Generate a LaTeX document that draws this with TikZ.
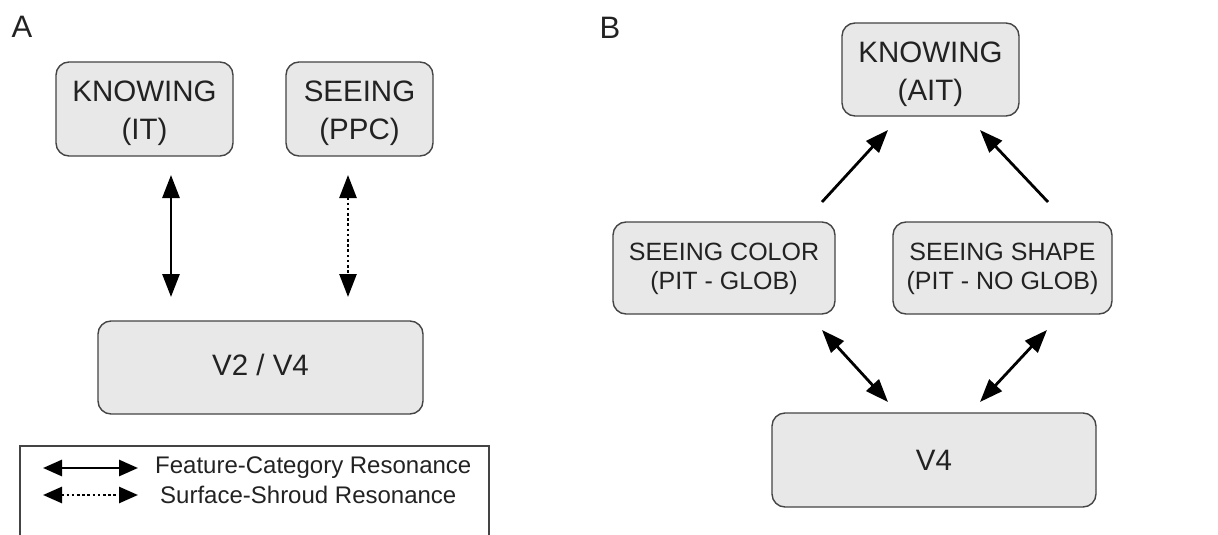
\documentclass[tikz,border=0pt]{standalone}
\usepackage{fontspec}
\setmainfont{Liberation Sans}
\usetikzlibrary{arrows.meta}
\definecolor{boxfill}{HTML}{E8E8E8}
\definecolor{boxline}{HTML}{444444}
\definecolor{txt}{HTML}{222222}
\tikzset{
  areabox/.style={draw=boxline, fill=boxfill, line width=1.4pt, rounded corners=13pt, inner sep=0pt},
  bigtext/.style={align=center, text=txt, inner sep=0pt, font=\fontsize{29.5}{38}\selectfont},
  smalltext/.style={bigtext, font=\fontsize{25}{29}\selectfont},
  bigtip/.style={-{Triangle[width=17pt,length=23pt]}},
  bothtip/.style={{Triangle[width=17pt,length=23pt]}-{Triangle[width=17pt,length=23pt]}},
  legtip/.style={{Triangle[width=16pt,length=19pt]}-{Triangle[width=16pt,length=19pt]}},
  conn/.style={line width=2.8pt, black},
  dotconn/.style={conn, line width=2.6pt, dash pattern=on 2.6pt off 2.6pt},
  paneltag/.style={text=txt, font=\fontsize{31}{31}\selectfont, inner sep=0pt},
  legendtext/.style={text=txt, font=\fontsize{24}{24}\selectfont, anchor=west, inner sep=0pt},
}
\begin{document}
\begin{tikzpicture}[x=1pt, y=-1pt]
\useasboundingbox (0,0) rectangle (1218,535);
% panel labels
\node[paneltag] (tagA) at (22,27) {A};
\node[paneltag] (tagB) at (610,28) {B};
% panel A
\node[areabox, minimum width=177pt, minimum height=94pt,
  label={[bigtext, yshift=-4pt]center:{KNOWING\\(IT)}}] (knowA) at (144.5,109) {};
\node[areabox, minimum width=147pt, minimum height=94pt,
  label={[bigtext, yshift=-4pt]center:{SEEING\\(PPC)}}] (seeA) at (359.5,109) {};
\node[areabox, minimum width=325pt, minimum height=93pt,
  label={[bigtext, yshift=3pt]center:{V2 / V4}}] (v2v4) at (260.5,367.5) {};
\coordinate (a1t) at (171,175); \coordinate (a1b) at (171,297);
\coordinate (a2t) at (348,175); \coordinate (a2b) at (348,297);
\draw[conn, bothtip] (a1t) -- (a1b);
\draw[dotconn, bothtip] (a2t) -- (a2b);
% legend
\coordinate (lg1) at (20,540); \coordinate (lg2) at (20,446);
\coordinate (lg3) at (489,446); \coordinate (lg4) at (489,540);
\draw[boxline, line width=1.2pt] (lg1) -- (lg2) -- (lg3) -- (lg4);
\coordinate (l1a) at (43,468); \coordinate (l1b) at (138,468);
\coordinate (l2a) at (43,495); \coordinate (l2b) at (138,495);
\draw[conn, legtip] (l1a) -- (l1b);
\draw[dotconn, legtip] (l2a) -- (l2b);
\node[legendtext] (lt1) at (155,468) {Feature-Category Resonance};
\node[legendtext] (lt2) at (160,495) {Surface-Shroud Resonance};
% panel B
\node[areabox, minimum width=177pt, minimum height=93pt,
  label={[bigtext, yshift=-5pt]center:{KNOWING\\(AIT)}}] (knowB) at (930.5,69.5) {};
\node[areabox, minimum width=222pt, minimum height=92pt,
  label={[smalltext, yshift=-1pt]center:{SEEING COLOR\\(PIT - GLOB)}}] (color) at (724,268) {};
\node[areabox, minimum width=219pt, minimum height=92pt,
  label={[smalltext, yshift=-1pt]center:{SEEING SHAPE\\(PIT - NO GLOB)}}] (shape) at (1002.5,268) {};
\node[areabox, minimum width=324pt, minimum height=94pt,
  label={[bigtext]center:{V4}}] (v4) at (934,460) {};
\coordinate (b1s) at (822,202); \coordinate (b1e) at (888,130);
\coordinate (b2s) at (1048,202); \coordinate (b2e) at (980,130);
\draw[conn, bigtip] (b1s) -- (b1e);
\draw[conn, bigtip] (b2s) -- (b2e);
\coordinate (b3s) at (822,330); \coordinate (b3e) at (888,402);
\coordinate (b4s) at (1047,330); \coordinate (b4e) at (980,402);
\draw[conn, bothtip] (b3s) -- (b3e);
\draw[conn, bothtip] (b4s) -- (b4e);
\end{tikzpicture}
\end{document}
